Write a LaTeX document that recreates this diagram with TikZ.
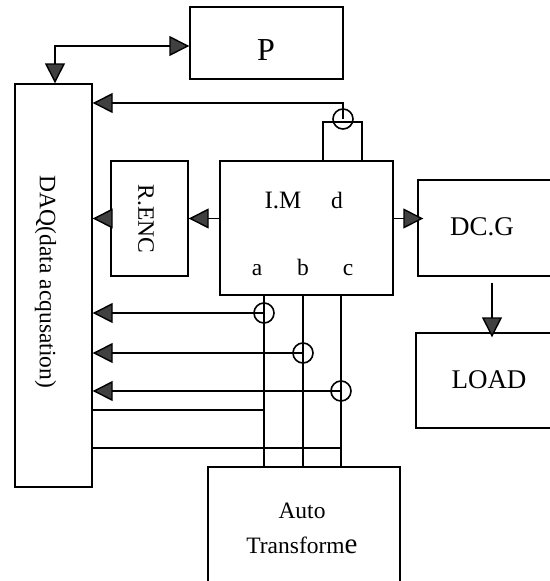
\documentclass[tikz,border=0pt]{standalone}
\usepackage{fontspec}
\setmainfont{Liberation Serif}
\usetikzlibrary{arrows.meta}
\tikzset{
block/.style={rectangle, draw=black, line width=1.4pt},
tag/.style={align=center, inner sep=0pt, font=\fontsize{23.5}{35}\selectfont},
bigtag/.style={tag, anchor=base, font=\fontsize{27}{35}\selectfont},
sensor/.style={circle, draw=black, line width=1.6pt, minimum size=20pt, inner sep=0pt},
arrow/.style={line width=1.4pt,-{Triangle[length=20pt,width=20pt,fill=black!75]}},
twoarrow/.style={line width=1.4pt,{Triangle[length=20pt,width=20pt,fill=black!75]}-{Triangle[length=20pt,width=20pt,fill=black!75]}},
noarrow/.style={line width=1.4pt}}

\begin{document}
\begin{tikzpicture}[x=1pt,y=-1pt]
\useasboundingbox (0,0) rectangle (549,581);
\node (daq) [block, minimum width=77pt, minimum height=403pt] at (53.5,285.5) {};
\node (p) [block, minimum width=153pt, minimum height=72pt] at (266.5,43) {};
\node (renc) [block, minimum width=77pt, minimum height=115pt] at (149.5,218.5) {};
\node (im) [block, minimum width=173pt, minimum height=134pt] at (306.5,228) {};
\node (dcg) [block, minimum width=134pt, minimum height=96pt] at (485,228) {};
\node (load) [block, minimum width=136pt, minimum height=95pt] at (484,380.5) {};
\node (auto) [block, minimum width=192pt, minimum height=118pt] at (304,526) {};

\node (daqtext) [tag, rotate=-90] at (45.5,282) {DAQ(data acqusation)};
\node (ptext) [tag, anchor=base, font=\fontsize{32}{35}\selectfont] at (266,60) {P};
\node (renctext) [tag, rotate=-90] at (146,219) {R.ENC};
\node (imtext) [tag, anchor=base, font=\fontsize{25}{35}\selectfont] at (283,208) {I.M};
\node (dtext) [tag, anchor=base] at (337,208) {d};
\node (atext) [tag, anchor=base] at (257,275) {a};
\node (btext) [tag, anchor=base] at (303,275) {b};
\node (ctext) [tag, anchor=base] at (348,275) {c};
\node (dcgtext) [bigtag] at (482,235) {DC.G};
\node (loadtext) [bigtag] at (489,388) {LOAD};
\node (autotext) [tag, anchor=base] at (302,518) {Auto};
\node (transtext) [tag, anchor=base] at (302,553) {Transform{\fontsize{29}{35}\selectfont e}};

\node (st) [sensor] at (343,119) {};
\node (sa) [sensor] at (264,313) {};
\node (sb) [sensor] at (303,353) {};
\node (sc) [sensor] at (341,391) {};

\coordinate (corner) at (55,46);
\coordinate (topleft) at (323,122);
\coordinate (topright) at (362,122);
\coordinate (topout) at (343,103);
\coordinate (daqa) at (92,410);
\coordinate (daqc) at (92,448);
\coordinate (loadin) at (492,380);

\draw [twoarrow] (daq.north -| corner) -- (corner) -- (corner -| p.west);
\draw [arrow] (st.north) -- (topout) -- (topout -| daq.east);
\draw [noarrow] (topleft |- im.north) -- (topleft) -- (topright) -- (topright |- im.north);
\draw [noarrow] (st.north) -- (st.center);
\draw [arrow] (renc -| im.west) -- (renc.east);
\draw [arrow] (renc.west) -- (renc -| daq.east);
\draw [arrow, shorten >=-6pt] (renc -| im.east) -- (renc -| dcg.west);
\draw [arrow, shorten <=6pt, shorten >=-5pt] (loadin |- dcg.south) -- (loadin |- load.north);

\draw [noarrow] (sa |- im.south) -- (sa |- auto.north);
\draw [noarrow] (sb |- im.south) -- (sb |- auto.north);
\draw [noarrow] (sc |- im.south) -- (sc |- auto.north);
\draw [arrow] (sa.center) -- (sa -| daq.east);
\draw [arrow] (sb.center) -- (sb -| daq.east);
\draw [arrow] (sc.center) -- (sc -| daq.east);
\draw [noarrow] (daqa) -- (daqa -| sa);
\draw [noarrow] (daqc) -- (daqc -| sc);
\end{tikzpicture}
\end{document}
